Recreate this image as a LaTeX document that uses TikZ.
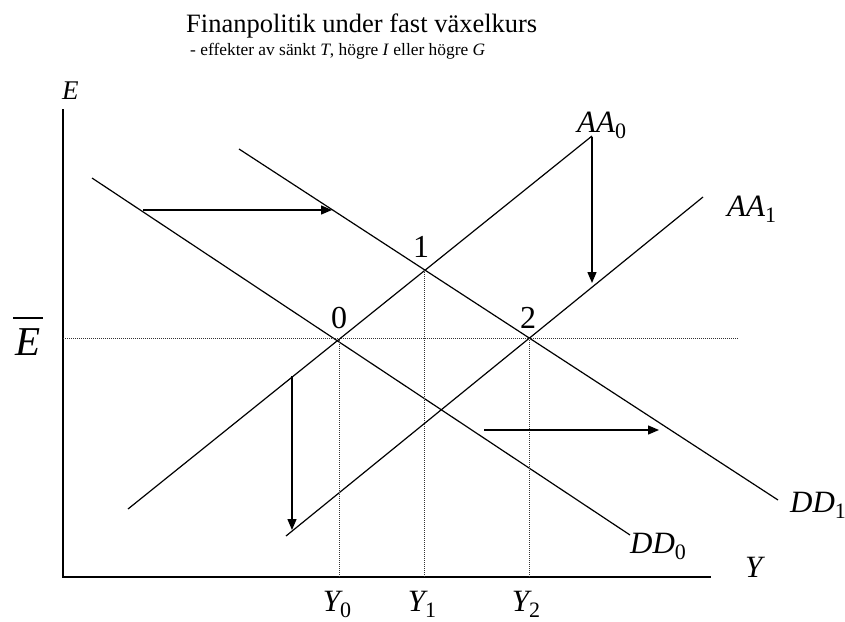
\documentclass[tikz,border=0pt]{standalone}
\usepackage{fontspec}
\setmainfont{Liberation Serif}
\usetikzlibrary{arrows.meta}
\newcommand{\subn}[1]{\raisebox{-6pt}{\fontsize{22}{22}\selectfont\upshape #1}}
\tikzset{
  axis/.style={draw=black,line width=1.8pt},
  curve/.style={draw=black,line width=1.2pt},
  guide/.style={draw=black!80,line width=1pt,dash pattern=on 1pt off 1pt},
  shiftarrow/.style={draw=black,line width=1.4pt,-{Triangle[length=11pt,width=9pt]}},
  lab/.style={inner sep=0pt,anchor=base west,font=\fontsize{31}{31}\selectfont\itshape},
}
\tikzset{num/.style={inner sep=0pt,anchor=base,font=\fontsize{32}{32}\selectfont},
  ylab/.style={inner sep=0pt,anchor=base,font=\fontsize{31}{31}\selectfont\itshape}}

\begin{document}
\begin{tikzpicture}[x=1pt,y=-1pt]
\useasboundingbox (0,0) rectangle (845,621);
% axes
\coordinate (top) at (63,109);
\coordinate (orig) at (63,577);
\coordinate (xend) at (711,577);
\draw[axis] (top)--(orig)--(xend);
% curves
\coordinate (a0s) at (128,509);
\coordinate (a0e) at (592,136);
\coordinate (a1s) at (286,536);
\coordinate (a1e) at (703,197);
\coordinate (d0s) at (92,178);
\coordinate (d0e) at (630,535);
\coordinate (d1s) at (239,149);
\coordinate (d1e) at (778,500);
\draw[curve] (a0s)--(a0e);
\draw[curve] (a1s)--(a1e);
\draw[curve] (d0s)--(d0e);
\draw[curve] (d1s)--(d1e);
% equilibria
\coordinate (p0) at (339,338);
\coordinate (p1) at (424,270);
\coordinate (p2) at (529,338);
\coordinate (ebarl) at (63,338);
\coordinate (ebarr) at (738,338);
\draw[guide] (ebarl)--(ebarr);
\draw[guide] (p0)--(p0 |- orig);
\draw[guide] (p1)--(p1 |- orig);
\draw[guide] (p2)--(p2 |- orig);
% shifts
\coordinate (h1s) at (143,210);
\coordinate (h1e) at (332,210);
\coordinate (h2s) at (484,430);
\coordinate (h2e) at (659,430);
\coordinate (v1s) at (592,137);
\coordinate (v1e) at (592,283);
\coordinate (v2s) at (292,376);
\coordinate (v2e) at (292,530);
\draw[shiftarrow] (h1s)--(h1e);
\draw[shiftarrow] (h2s)--(h2e);
\draw[shiftarrow] (v1s)--(v1e);
\draw[shiftarrow] (v2s)--(v2e);
% labels
\node[inner sep=0pt,anchor=base west,font=\fontsize{26.5}{26.5}\selectfont] (title) at (186,32) {Finanpolitik under fast växelkurs};
\node[inner sep=0pt,anchor=base west,font=\fontsize{17.4}{17.4}\selectfont] (subtitle) at (190,55) {- effekter av sänkt \textit{T}, högre \textit{I} eller högre \textit{G}};
\node[lab,font=\fontsize{27}{27}\selectfont\itshape] (elab) at (62,99) {E};
\node[lab,font=\fontsize{41}{41}\selectfont\itshape] (ebar) at (15,355) {E};
\draw[line width=2pt] ([shift={(-2pt,10pt)}]ebar.north west)--([shift={(3pt,10pt)}]ebar.north east);
\node[lab] (ylab) at (745,577) {Y};
\node[num] (n0) at (339,328) {0};
\node[num] (n1) at (421,257) {1};
\node[num] (n2) at (528,328) {2};
\node[lab] (aa0) at (577,132) {AA\subn{0}};
\node[lab] (aa1) at (727,216) {AA\subn{1}};
\node[lab] (dd0) at (630,553) {DD\subn{0}};
\node[lab] (dd1) at (790,512) {DD\subn{1}};
\node[ylab] (y0) at (337,611) {Y\subn{0}};
\node[ylab] (y1) at (422,611) {Y\subn{1}};
\node[ylab] (y2) at (526,611) {Y\subn{2}};
\end{tikzpicture}
\end{document}
